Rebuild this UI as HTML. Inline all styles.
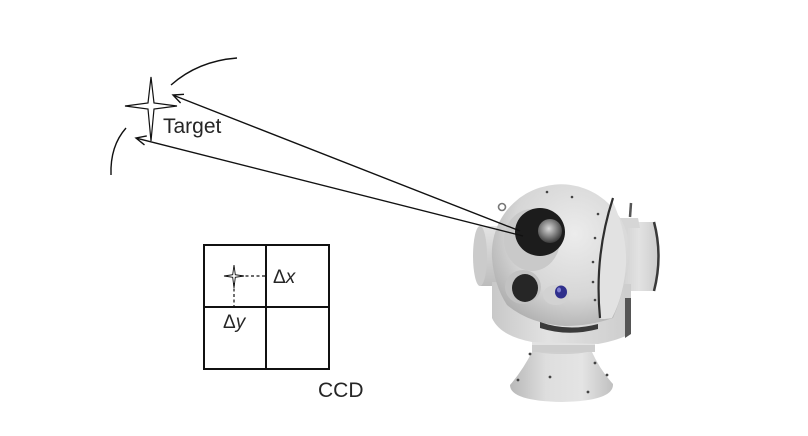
<!DOCTYPE html>
<html><head><meta charset="utf-8"><style>
html,body{margin:0;padding:0;background:#fff;}
svg{display:block;}
text{font-family:"Liberation Sans",sans-serif;fill:#262626;}
</style></head><body>
<svg width="808" height="436" viewBox="0 0 808 436" xmlns="http://www.w3.org/2000/svg">
<defs>
<radialGradient id="ball" cx="0.6" cy="0.35" r="0.75">
<stop offset="0" stop-color="#ececec"/>
<stop offset="0.6" stop-color="#d6d6d6"/>
<stop offset="1" stop-color="#a8a8a8"/>
</radialGradient>
<linearGradient id="cylL" x1="0" y1="0" x2="0" y2="1">
<stop offset="0" stop-color="#e4e4e4"/><stop offset="1" stop-color="#bcbcbc"/>
</linearGradient>
<linearGradient id="cylR" x1="0" y1="0" x2="1" y2="0">
<stop offset="0" stop-color="#cfcfcf"/><stop offset="0.5" stop-color="#e2e2e2"/><stop offset="1" stop-color="#cdcdcd"/>
</linearGradient>
<linearGradient id="ped" x1="0" y1="0" x2="1" y2="0">
<stop offset="0" stop-color="#b8b8b8"/><stop offset="0.35" stop-color="#dedede"/><stop offset="0.7" stop-color="#e4e4e4"/><stop offset="1" stop-color="#c0c0c0"/>
</linearGradient>
<linearGradient id="crad" x1="0" y1="0" x2="1" y2="0">
<stop offset="0" stop-color="#c8c8c8"/><stop offset="0.4" stop-color="#e2e2e2"/><stop offset="1" stop-color="#cdcdcd"/>
</linearGradient>
<radialGradient id="metal" cx="0.45" cy="0.4" r="0.6">
<stop offset="0" stop-color="#d8d8d8"/><stop offset="0.5" stop-color="#8a8a8a"/><stop offset="1" stop-color="#3a3a3a"/>
</radialGradient>
</defs>

<!-- arcs near target -->
<path d="M171,85 Q198,61 237,58" fill="none" stroke="#111" stroke-width="1.4"/>
<path d="M126,128 Q110,146 111,175" fill="none" stroke="#111" stroke-width="1.4"/>

<!-- target star -->
<path d="M151,77 L154,103 L177,106 L154,109 L151,141 L148,109 L125,106 L148,103 Z" fill="#fff" stroke="#111" stroke-width="1.2" stroke-linejoin="miter"/>
<text x="163" y="133" font-size="21">Target</text>

<!-- CCD grid -->
<rect x="204" y="245" width="125" height="124" fill="none" stroke="#111" stroke-width="2"/>
<line x1="266" y1="245" x2="266" y2="369" stroke="#111" stroke-width="2"/>
<line x1="204" y1="307" x2="329" y2="307" stroke="#111" stroke-width="2"/>
<path d="M234,265 L235.3,274.7 L244,276 L235.3,277.3 L234,288 L232.7,277.3 L224,276 L232.7,274.7 Z" fill="#fff" stroke="#111" stroke-width="0.9"/>
<line x1="240" y1="276" x2="265" y2="276" stroke="#111" stroke-width="1.2" stroke-dasharray="3,2.5"/>
<line x1="234" y1="283" x2="234" y2="306" stroke="#111" stroke-width="1.2" stroke-dasharray="3,2.5"/>
<text x="273" y="283" font-size="19">Δ<tspan font-style="italic">x</tspan></text>
<text x="223" y="328" font-size="19">Δ<tspan font-style="italic">y</tspan></text>
<text x="318" y="397" font-size="21">CCD</text>

<!-- camera: right cylinder -->
<path d="M620,222 L654,222 Q662,256 654,291 L620,291 Z" fill="url(#cylR)"/>
<path d="M654,222 Q663,256 654,291" fill="none" stroke="#3a3a3a" stroke-width="2.5"/>
<path d="M619,218 L638,218 L640,228 L619,228 Z" fill="#d6d6d6"/>
<path d="M630,217 L631,203" stroke="#555" stroke-width="2.5"/>

<!-- left cylinder -->
<rect x="480" y="226" width="22" height="60" fill="url(#cylL)"/>
<ellipse cx="480" cy="256" rx="7" ry="30" fill="#cbcbcb"/>

<!-- pedestal -->
<path d="M533,350 L591,350 Q600,370 613,384 Q614,401 562,402 Q510,401 510,385 Q523,370 533,350 Z" fill="url(#ped)"/>
<ellipse cx="562" cy="350" rx="29" ry="4" fill="#cfcfcf"/>
<!-- neck -->
<rect x="532" y="328" width="63" height="24" fill="#e2e2e2"/>
<rect x="532" y="345" width="63" height="7" fill="#cdcdcd"/>

<!-- cradle -->
<path d="M492,282 L492,318 Q500,336 532,342 L598,344 Q620,340 631,333 L631,284 Z" fill="url(#crad)"/>
<path d="M625,298 L631,298 L631,334 L625,338 Z" fill="#555"/>

<!-- ball -->
<path d="M492,258 A69,69 0 1,1 626,276 Q621,300 613,318 Q590,326 565,326 Q530,324 507,305 Q494,285 492,258 Z" fill="url(#ball)"/>
<path d="M612,200 Q627,232 626,264 Q624,295 612,318 Q600,320 600,318 Q595,256 612,200 Z" fill="#e2e2e2"/>
<path d="M613,198 Q594,256 600,318" fill="none" stroke="#2e2e2e" stroke-width="2.2"/>
<path d="M540,322 Q568,332 598,324 L598,329 Q568,337 540,328 Z" fill="#3a3a3a"/>
<!-- hook left -->
<circle cx="502" cy="207" r="3.5" fill="none" stroke="#777" stroke-width="1.6"/>

<!-- main lens -->
<ellipse cx="532" cy="240" rx="28" ry="31" fill="#c9c9c9"/>
<ellipse cx="540" cy="232" rx="25" ry="24" fill="#1c1c1c"/>
<circle cx="550" cy="231" r="12" fill="url(#metal)"/>
<!-- lower apertures -->
<ellipse cx="523" cy="287" rx="18" ry="17" fill="#c2c2c2"/>
<ellipse cx="525" cy="288" rx="13" ry="14" fill="#262626"/>
<ellipse cx="556" cy="295" rx="13" ry="10" fill="#d2d2d2"/>
<ellipse cx="561" cy="292" rx="6" ry="6.5" fill="#2f2f8c"/>
<ellipse cx="559" cy="290" rx="2" ry="2.5" fill="#7f7fd0"/>

<!-- screws -->
<g fill="#444">
<circle cx="547" cy="192" r="1.3"/><circle cx="572" cy="197" r="1.3"/><circle cx="598" cy="214" r="1.3"/>
<circle cx="595" cy="238" r="1.3"/><circle cx="593" cy="262" r="1.3"/><circle cx="593" cy="282" r="1.3"/>
<circle cx="595" cy="300" r="1.3"/>
<circle cx="518" cy="380" r="1.4"/><circle cx="550" cy="377" r="1.4"/><circle cx="588" cy="392" r="1.4"/>
<circle cx="607" cy="375" r="1.4"/><circle cx="595" cy="363" r="1.4"/><circle cx="530" cy="354" r="1.4"/>
</g>

<!-- arrows -->
<line x1="520" y1="231" x2="174" y2="95.5" stroke="#111" stroke-width="1.4"/>
<polyline points="180.6,103 173,95 184,94.3" fill="none" stroke="#111" stroke-width="1.4"/>
<line x1="523" y1="236" x2="137" y2="138.3" stroke="#111" stroke-width="1.4"/>
<polyline points="144.5,144.9 136,138 146.8,135.9" fill="none" stroke="#111" stroke-width="1.4"/>
</svg>
</body></html>
